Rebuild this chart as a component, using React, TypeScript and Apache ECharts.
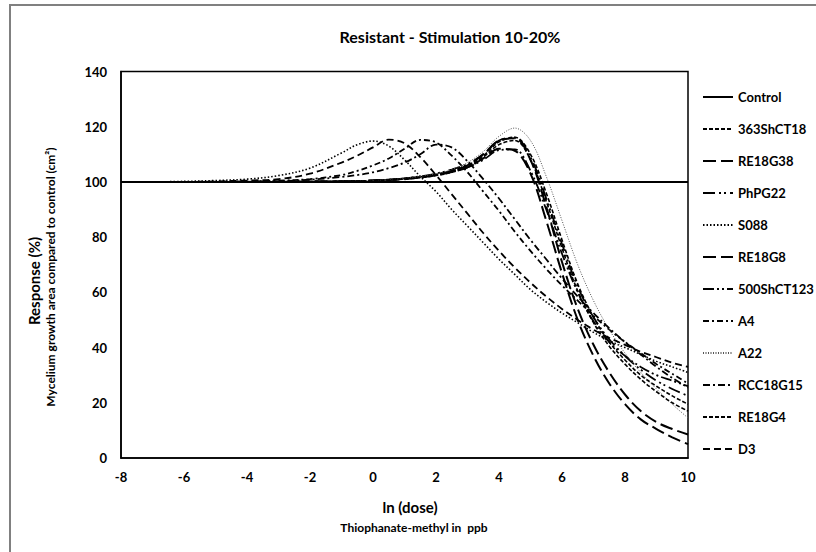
import { useEffect, useRef } from "react";
import * as echarts from "echarts";

// ln(dose) sampling positions for the fitted curves
const X = [-7, -6, -5, -4, -3, -2, -1, -0.5, 0, 0.5, 1, 1.5, 2, 2.5, 3, 3.5, 4, 4.5, 5, 5.5, 6, 6.5, 7, 7.5, 8, 8.5, 9, 9.5, 10];

const CONTROL_X = [-8, 10];
const CONTROL_Y = [100, 100];

const S363ShCT18 = [100, 100, 100, 100, 100, 100.1, 100.2, 100.3, 100.5, 100.8, 101.2, 101.8, 102.7, 104, 106, 109.5, 114.5, 116.2, 110, 96, 79, 63, 51, 42, 35.5, 30, 26, 22.5, 19.5];
const RE18G38 = [100, 100, 100, 100, 100, 100.1, 100.2, 100.3, 100.5, 100.7, 101, 101.6, 102.4, 103.6, 105.3, 108.5, 112, 111.3, 103, 86, 67, 50, 37, 27, 19.5, 14, 10.5, 7.5, 5];
const PhPG22 = [100, 100, 100, 100, 100, 100.1, 100.2, 100.3, 100.5, 100.8, 101.3, 102, 103, 104.5, 106.5, 110, 115, 116, 109, 94, 77.5, 62, 51, 43, 37, 32, 28, 25, 22.5];
const S088 = [100, 100.2, 100.5, 101, 102.3, 105, 110.5, 113.5, 114.8, 113, 108, 102, 96.5, 90, 84, 78, 72, 66.5, 61, 56.5, 52.5, 49, 45.5, 42.5, 40, 37.5, 35, 33, 31];
const RE18G8 = [100, 100, 100, 100, 100, 100.1, 100.2, 100.3, 100.5, 100.8, 101.2, 101.8, 102.7, 104, 106, 110, 115, 115.8, 108, 91, 71, 54, 41, 31, 23, 17, 13, 10.5, 8.5];
const S500ShCT123 = [100, 100, 100, 100, 100, 100.1, 100.2, 100.3, 100.5, 100.8, 101.2, 101.8, 102.6, 103.8, 105.3, 108, 111.5, 111.8, 104, 90, 74, 60, 49.5, 42, 37, 33, 30, 28, 26];
const A4 = [100, 100, 100, 100.2, 100.5, 101, 102.5, 104, 106, 108.5, 112, 115.2, 114.3, 109.5, 103.5, 96.5, 89.5, 82, 75, 68.5, 62.5, 57, 51.5, 46.5, 42, 38, 34, 30.5, 27];
const A22 = [100, 100, 100, 100, 100, 100.1, 100.2, 100.3, 100.5, 100.8, 101.3, 102, 103, 104.5, 107, 111, 116.5, 119.5, 115, 102, 86, 70, 57, 46.5, 38, 31, 25, 19.5, 14.5];
const RCC18G15 = [100, 100, 100, 100.1, 100.3, 100.8, 101.8, 102.5, 103.5, 105, 107, 110, 113.5, 112.5, 107.5, 101, 94, 86.5, 79, 72, 65, 58.5, 52.5, 47, 42, 37.5, 33, 29, 25.5];
const RE18G4 = [100, 100, 100, 100, 100, 100.1, 100.2, 100.3, 100.4, 100.7, 101, 101.5, 102.3, 103.5, 105.5, 109, 113.5, 115, 108, 93, 76, 60.5, 49, 40.5, 34, 28.5, 24, 20, 17];
const D3 = [100, 100, 100.2, 100.5, 101, 103, 107, 109.5, 112.5, 115.3, 114, 109, 102.5, 95.5, 88.5, 81.5, 75, 69, 63.5, 58.5, 54, 50, 46.5, 43.5, 41, 38.5, 36.5, 34.5, 33];

const NAMES = ["Control", "363ShCT18", "RE18G38", "PhPG22", "S088", "RE18G8", "500ShCT123", "A4", "A22", "RCC18G15", "RE18G4", "D3"];
const VALUES = [CONTROL_Y, S363ShCT18, RE18G38, PhPG22, S088, RE18G8, S500ShCT123, A4, A22, RCC18G15, RE18G4, D3];

const Y_MIN = 0;
const Y_MAX = 140;
const X_MIN = -8;
const X_MAX = 10;

const STYLES: Record<string, { type: any; width: number; color: string }> = {
  Control: { type: "solid", width: 2, color: "#000" },
  "363ShCT18": { type: [4, 2], width: 1.6, color: "#000" },
  RE18G38: { type: [13, 5], width: 2, color: "#000" },
  PhPG22: { type: [12, 4, 2, 3, 2, 4], width: 1.8, color: "#000" },
  S088: { type: [1.5, 2], width: 1.6, color: "#000" },
  RE18G8: { type: [13, 5], width: 2, color: "#000" },
  "500ShCT123": { type: [11, 3, 2, 3, 2, 3], width: 1.8, color: "#000" },
  A4: { type: [6, 3, 2, 3], width: 1.8, color: "#000" },
  A22: { type: [1, 1.5], width: 1, color: "#555" },
  RCC18G15: { type: [7, 3, 2, 3], width: 1.8, color: "#000" },
  RE18G4: { type: [4, 2], width: 1.6, color: "#000" },
  D3: { type: [7, 4], width: 1.8, color: "#000" },
};

const FONT = "Lato, 'Open Sans', sans-serif";

export default function App() {
  const ref = useRef<HTMLDivElement>(null);
  useEffect(() => {
    const chart = echarts.init(ref.current!, null, { renderer: "svg" });
    const series = NAMES.map((name, i) => {
      const xs = i === 0 ? CONTROL_X : X;
      const st = STYLES[name];
      return {
        name,
        type: "line",
        smooth: i === 0 ? false : 0.35,
        symbol: "none",
        showSymbol: false,
        data: xs.map((x, j) => [x, VALUES[i][j]]),
        lineStyle: { color: st.color, width: st.width, type: st.type, cap: "butt" },
        itemStyle: { color: st.color },
        z: i === 0 ? 3 : 2,
      };
    });
    chart.setOption({
      animation: false,
      backgroundColor: "#fff",
      textStyle: { fontFamily: FONT },
      title: {
        text: "Resistant - Stimulation 10-20%",
        left: 445,
        top: 23,
        textAlign: "center",
        textStyle: { fontFamily: FONT, fontSize: 16, fontWeight: "bold", color: "#000" },
      },
      legend: {
        orient: "vertical",
        left: 697,
        top: 85,
        itemWidth: 30,
        itemHeight: 14,
        itemGap: 18,
        data: NAMES,
        itemStyle: { opacity: 0 },
        textStyle: { fontFamily: FONT, fontSize: 13, fontWeight: "bold", color: "#000", lineHeight: 14 },
      },
      grid: {
        left: 121,
        top: 71.5,
        right: 128,
        bottom: 94,
        show: true,
        borderColor: "#000",
        borderWidth: 1.5,
        backgroundColor: "transparent",
      },
      xAxis: {
        type: "value",
        min: X_MIN,
        max: X_MAX,
        interval: 2,
        axisLine: { show: true, onZero: false, lineStyle: { color: "#000", width: 1.5 } },
        axisTick: { show: false },
        splitLine: { show: false },
        axisLabel: { color: "#000", fontSize: 13, fontWeight: "bold", margin: 12, fontFamily: FONT },
      },
      yAxis: {
        type: "value",
        min: Y_MIN,
        max: Y_MAX,
        interval: 20,
        axisLine: { show: true, onZero: false, lineStyle: { color: "#000", width: 1.5 } },
        axisTick: { show: false },
        splitLine: { show: false },
        axisLabel: { color: "#000", fontSize: 13, fontWeight: "bold", margin: 14, fontFamily: FONT },
      },
      graphic: [
        {
          type: "rect",
          shape: { x: 10, y: 5, width: 830, height: 570 },
          style: { fill: "none", stroke: "#808080", lineWidth: 2 },
          silent: true,
        },
        {
          type: "text",
          x: 410,
          y: 507,
          style: { text: "ln (dose)", fontFamily: FONT, fontSize: 15, fontWeight: "bold", fill: "#000", align: "center", verticalAlign: "middle" },
        },
        {
          type: "text",
          x: 414,
          y: 527,
          style: { text: "Thiophanate-methyl in  ppb", fontFamily: FONT, fontSize: 12, fontWeight: "bold", fill: "#000", align: "center", verticalAlign: "middle" },
        },
        {
          type: "text",
          x: 34,
          y: 281,
          rotation: Math.PI / 2,
          style: { text: "Response (%)", fontFamily: FONT, fontSize: 15, fontWeight: "bold", fill: "#000", align: "center", verticalAlign: "middle" },
        },
        {
          type: "text",
          x: 50,
          y: 277,
          rotation: Math.PI / 2,
          style: {
            text: "Mycelium growth area compared to control (cm²)",
            fontFamily: FONT,
            fontSize: 12,
            fontWeight: "bold",
            fill: "#000",
            align: "center",
            verticalAlign: "middle",
          },
        },
      ],
      series,
    });
    return () => chart.dispose();
  }, []);
  return (
    <div
      ref={ref}
      style={{ position: "absolute", left: 0, top: 0, width: 816, height: 552, background: "#fff" }}
    />
  );
}
